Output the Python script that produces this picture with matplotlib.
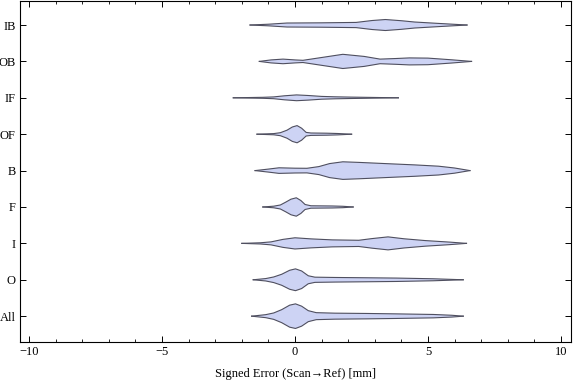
import numpy as np
import matplotlib.pyplot as plt
from matplotlib.ticker import MultipleLocator

plt.rcParams['font.family'] = ['Liberation Serif', 'DejaVu Serif']

# categories, bottom to top
categories = ["All", "O", "I", "F", "B", "OF", "IF", "OB", "IB"]

# violin outlines: x = signed error [mm], w = half width (px)
x_all = [-1.63, -1.1, -0.8, -0.5, -0.2, 0.02, 0.25, 0.5, 0.8, 1.5, 2.7, 3.8, 5.2, 5.9, 6.33]
w_all = [0, 1.5, 3.2, 6.5, 11.0, 12.3, 10.0, 5.5, 3.5, 3.0, 2.7, 2.3, 1.7, 0.9, 0]

x_o = [-1.57, -1.1, -0.8, -0.5, -0.2, 0.02, 0.25, 0.5, 0.75, 1.5, 2.7, 3.8, 5.2, 6.33]
w_o = [0, 1.2, 2.8, 5.5, 9.5, 10.9, 8.8, 4.0, 2.6, 2.3, 2.0, 1.7, 1.0, 0]

x_i = [-2.0, -1.3, -0.9, -0.45, 0.0, 0.6, 1.4, 2.4, 2.9, 3.5, 4.1, 4.9, 5.8, 6.45]
w_i = [0, 0.6, 1.5, 4.0, 5.6, 4.5, 3.5, 3.1, 4.8, 6.5, 4.6, 2.8, 1.3, 0]

x_f = [-1.21, -0.8, -0.55, -0.35, -0.15, 0.05, 0.22, 0.38, 0.6, 1.4, 1.8, 2.19]
w_f = [0, 0.8, 2.0, 4.8, 7.8, 9.2, 6.5, 2.5, 1.2, 1.0, 0.7, 0]

x_b = [-1.5, -1.0, -0.6, 0.0, 0.45, 0.9, 1.3, 1.8, 2.4, 3.4, 4.5, 5.4, 6.0, 6.58]
w_b = [0, 1.5, 2.8, 2.4, 2.3, 4.0, 7.0, 8.8, 8.2, 7.0, 5.7, 4.4, 2.6, 0]

x_of = [-1.43, -0.8, -0.55, -0.3, -0.1, 0.08, 0.25, 0.42, 0.6, 1.2, 1.6, 2.13]
w_of = [0, 0.6, 1.5, 4.0, 7.2, 8.6, 6.0, 1.8, 1.2, 1.0, 0.7, 0]

x_if = [-2.32, -1.2, -0.8, -0.4, 0.06, 0.5, 1.0, 1.5, 2.1, 2.6, 3.89]
w_if = [0, 0.5, 0.9, 2.0, 2.9, 2.3, 1.4, 1.0, 0.7, 0.5, 0]

x_ob = [-1.34, -0.9, -0.45, 0.0, 0.3, 0.9, 1.8, 2.6, 3.2, 3.8, 4.3, 5.0, 5.9, 6.64]
w_ob = [0, 1.5, 2.3, 1.5, 1.1, 3.5, 7.1, 5.0, 2.3, 2.9, 3.5, 3.3, 1.6, 0]

x_ib = [-1.69, -1.0, -0.3, 1.0, 2.3, 2.9, 3.4, 4.0, 4.5, 5.4, 6.47]
w_ib = [0, 0.8, 2.0, 2.2, 2.6, 4.5, 5.5, 4.3, 3.0, 1.6, 0]

xs = [x_all, x_o, x_i, x_f, x_b, x_of, x_if, x_ob, x_ib]
ws = [w_all, w_o, w_i, w_f, w_b, w_of, w_if, w_ob, w_ib]

fig = plt.figure(figsize=(5.76, 3.81), dpi=100)
ax = fig.add_axes([20 / 576, 39 / 381, 551 / 576, 341 / 381])

px_per_unit = 36.4
for k, (x, w) in enumerate(zip(xs, ws)):
    pos = k + 1
    x = np.asarray(x)
    w = np.asarray(w) / px_per_unit
    ax.fill_between(x, pos - w, pos + w, facecolor='#cdd3f4', edgecolor='none', zorder=2)
    ax.plot(x, pos + w, color='#4f4f5f', lw=0.8, zorder=3)
    ax.plot(x, pos - w, color='#4f4f5f', lw=0.8, zorder=3)

ax.set_xlim(-10.34, 10.38)
ax.set_ylim(0.29, 9.66)
ax.set_yticks(range(1, len(categories) + 1))
ax.set_yticklabels(categories)
ax.xaxis.set_major_locator(MultipleLocator(5))
ax.xaxis.set_minor_locator(MultipleLocator(1))
ax.set_xticks([-10, -5, 0, 5, 10])
ax.set_xticklabels(['\u221210', '\u22125', '0', '5', '10'])

ax.tick_params(axis='both', which='major', direction='in', length=4.5, width=0.7,
               labelsize=9, pad=3, top=True, right=True)
ax.tick_params(axis='x', which='minor', direction='in', length=2.5, width=0.6, top=True)
for sp in ax.spines.values():
    sp.set_linewidth(0.8)

ax.set_xlabel('Signed Error (Scan\u2192Ref) [mm]', fontsize=9, labelpad=7)

fig.savefig('out.png', dpi=100)
